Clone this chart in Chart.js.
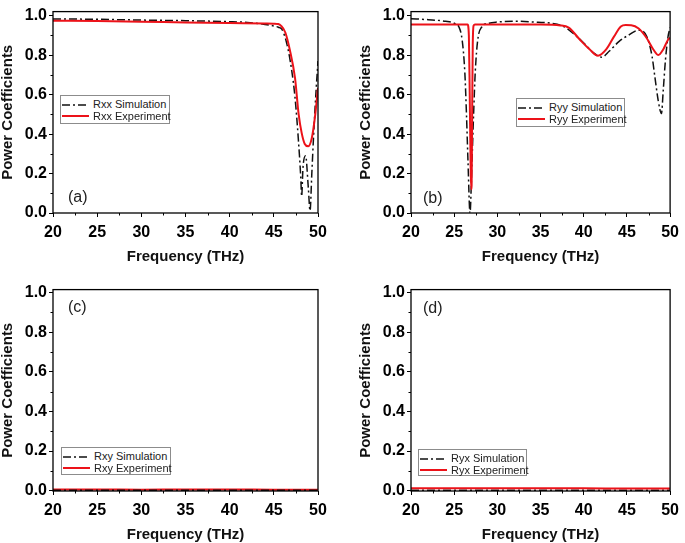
<!DOCTYPE html>
<html>
<head>
<meta charset="utf-8">
<script src="https://cdn.jsdelivr.net/npm/chart.js@4.4.1/dist/chart.umd.min.js"></script>
<style>
  html, body { margin: 0; padding: 0; background: #fff; }
  body { width: 685px; height: 543px; position: relative; overflow: hidden; font-family: 'Liberation Sans', Arial, sans-serif; }
  canvas { position: absolute; }
  .legend { position: absolute; box-sizing: border-box; border: 1px solid #8c8c8c; background: #fff;
            font-size: 11px; color: #222; padding: 3px 0 0 1px; }
  .legend .row { display: flex; align-items: center; height: 11.5px; line-height: 11.5px; white-space: nowrap; }
  .legend svg { width: 27px; height: 6px; margin-right: 4px; flex: none; }
  .tag { position: absolute; font-size: 16px; line-height: 16px; color: #222; }
</style>
</head>
<body>
<canvas id="chartA" width="340" height="270" style="left:0;top:0"></canvas>
<canvas id="chartB" width="327" height="270" style="left:358px;top:0"></canvas>
<canvas id="chartC" width="340" height="270" style="left:0;top:278px"></canvas>
<canvas id="chartD" width="327" height="270" style="left:358px;top:278px"></canvas>

<div class="tag" style="left:68px;top:189px">(a)</div>
<div class="tag" style="left:423px;top:190px">(b)</div>
<div class="tag" style="left:68px;top:299px">(c)</div>
<div class="tag" style="left:423px;top:300px">(d)</div>

<div id="legA" class="legend" style="left:60px;top:95px;width:110px;height:29px"></div>
<div id="legB" class="legend" style="left:516px;top:98px;width:109px;height:29px"></div>
<div id="legC" class="legend" style="left:61px;top:447px;width:110px;height:28px"></div>
<div id="legD" class="legend" style="left:418px;top:449px;width:109px;height:27px"></div>

<script>
// axis ticks
const xTicks = [20, 25, 30, 35, 40, 45, 50];
const xMinor = [22.5, 27.5, 32.5, 37.5, 42.5, 47.5];
const yTicks = [0, 0.2, 0.4, 0.6, 0.8, 1.0];
const yMinor = [0.1, 0.3, 0.5, 0.7, 0.9];

// (a) Rxx
const aFreqSim = [20, 25, 30, 35, 40, 42, 44, 45, 45.5, 45.9, 46.45, 47.0, 47.4, 47.8, 48.05, 48.15, 48.3, 48.6, 48.9, 49.1, 49.3, 49.5, 49.8, 50];
const aSim     = [0.984, 0.982, 0.978, 0.975, 0.97, 0.966, 0.956, 0.948, 0.942, 0.932, 0.862, 0.73, 0.585, 0.358, 0.179, 0.085, 0.23, 0.29, 0.13, 0.012, 0.2, 0.39, 0.634, 0.77];
const aFreqExp = [20, 25, 30, 35, 40, 44, 45, 45.5, 45.8, 46.3, 46.8, 47.4, 47.8, 48.15, 48.5, 48.9, 49.3, 49.66, 50];
const aExp     = [0.975, 0.973, 0.97, 0.966, 0.963, 0.961, 0.96, 0.958, 0.95, 0.915, 0.829, 0.684, 0.504, 0.406, 0.35, 0.338, 0.38, 0.488, 0.634];

// (b) Ryy
const bFreqSim = [20, 22, 24, 25, 25.55, 25.92, 26.23, 26.42, 26.6, 26.83, 27.06, 27.25, 27.44, 27.73, 28.19, 29, 30, 32, 34.7, 36.2,
                  37.7, 38.8, 40.0, 41.1, 42.1, 42.97, 44.1, 45.2, 46.4, 47.3, 47.9, 48.26, 48.63, 49.0, 49.2, 49.47, 49.76, 50];
const bSim     = [0.985, 0.98, 0.972, 0.962, 0.943, 0.878, 0.715, 0.504, 0.26, 0.0, 0.26, 0.504, 0.715, 0.878, 0.943, 0.962, 0.968, 0.972, 0.967, 0.962,
                  0.945, 0.91, 0.862, 0.813, 0.79, 0.821, 0.87, 0.902, 0.927, 0.894, 0.797, 0.683, 0.569, 0.504, 0.618, 0.78, 0.894, 0.94];
const bFreqExp = [20, 26.55, 26.7, 26.8, 26.9, 26.97, 27.02, 27.08, 27.15, 27.25, 27.4, 30, 35, 37.3, 38.26, 39.57, 40.7, 41.65, 42.6, 43.5,
                  44.3, 44.86, 45.5, 46.36, 47.3, 48.06, 48.65, 49.2, 49.76, 50];
const bExp     = [0.955, 0.955, 0.9, 0.6, 0.25, 0.12, 0.14, 0.5, 0.85, 0.95, 0.955, 0.955, 0.955, 0.951, 0.94, 0.878, 0.829, 0.797, 0.829, 0.894,
                  0.946, 0.953, 0.952, 0.935, 0.886, 0.829, 0.801, 0.829, 0.878, 0.888];

// (c) Rxy
const cFreq = [20, 25, 30, 35, 40, 45, 50];
const cSim  = [0.002, 0.002, 0.002, 0.002, 0.002, 0.002, 0.002];
const cExp  = [0.006, 0.006, 0.005, 0.006, 0.006, 0.005, 0.005];

// (d) Ryx
const dFreq = [20, 25, 30, 35, 40, 45, 50];
const dSim  = [0.002, 0.002, 0.002, 0.002, 0.002, 0.002, 0.002];
const dExp  = [0.013, 0.013, 0.012, 0.012, 0.012, 0.011, 0.011];

const simColor = '#111';
const expColor = '#ec1219';
const simDash = [8, 3, 2, 3];
const fontFamily = "'Liberation Sans', Arial, sans-serif";

const pts = (xs, ys) => xs.map((x, i) => ({ x: x, y: ys[i] }));

const frameTicks = {
    id: 'frameTicks',
    afterDraw(chart) {
        const { ctx, chartArea: { left, right, top, bottom }, scales: { x, y } } = chart;
        ctx.save();
        ctx.strokeStyle = '#000';
        ctx.lineWidth = 1;
        ctx.beginPath();
        xMinor.forEach(v => {
            const px = Math.round(x.getPixelForValue(v)) + 0.5;
            ctx.moveTo(px, bottom); ctx.lineTo(px, bottom + 2.5);
        });
        yMinor.forEach(v => {
            const py = Math.round(y.getPixelForValue(v)) + 0.5;
            ctx.moveTo(left, py); ctx.lineTo(left - 2.5, py);
        });
        ctx.stroke();
        ctx.lineWidth = 1.3;
        ctx.strokeRect(left, top, right - left, bottom - top);
        ctx.restore();
    }
};

function makeChart(id, simPts, expPts, yMin, yMax, padTop, padRight, simOnTop) {
    new Chart(document.getElementById(id).getContext('2d'), {
        type: 'line',
        data: {
            datasets: [
                { label: 'sim', data: simPts, borderColor: simColor, borderWidth: 1.5, borderDash: simDash,
                  pointRadius: 0, cubicInterpolationMode: 'monotone', order: simOnTop ? 0 : 1 },
                { label: 'exp', data: expPts, borderColor: expColor, borderWidth: 2,
                  pointRadius: 0, cubicInterpolationMode: 'monotone', order: simOnTop ? 1 : 0 }
            ]
        },
        options: {
            responsive: false,
            animation: false,
            layout: { padding: { top: padTop, right: padRight, left: 0, bottom: 0 } },
            plugins: { legend: { display: false }, tooltip: { enabled: false } },
            scales: {
                x: {
                    type: 'linear', min: 20, max: 50,
                    afterBuildTicks: s => { s.ticks = xTicks.map(v => ({ value: v })); },
                    afterFit: s => { s.height = 57; },
                    grid: { drawOnChartArea: false, drawTicks: true, tickLength: 4, color: '#000' },
                    border: { display: false },
                    ticks: { padding: 6, color: '#000', font: { family: fontFamily, size: 16, weight: 'bold' } },
                    title: { display: true, text: 'Frequency (THz)', color: '#111', padding: { top: 0, bottom: 4 },
                             font: { family: fontFamily, size: 15, weight: 'bold' } }
                },
                y: {
                    type: 'linear', min: yMin, max: yMax,
                    afterBuildTicks: s => { s.ticks = yTicks.map(v => ({ value: v })); },
                    afterFit: s => { s.width = 53; },
                    grid: { drawOnChartArea: false, drawTicks: true, tickLength: 4, color: '#000' },
                    border: { display: false },
                    ticks: { padding: 2, color: '#000', callback: v => v.toFixed(1),
                             font: { family: fontFamily, size: 16, weight: 'bold' } },
                    title: { display: true, text: 'Power Coefficients', color: '#111', padding: { top: -1, bottom: 0 },
                             font: { family: fontFamily, size: 15, weight: 'bold' } }
                }
            }
        },
        plugins: [frameTicks]
    });
}

function makeLegend(id, simLabel, expLabel) {
    const el = document.getElementById(id);
    el.innerHTML =
        `<div class="row"><svg viewBox="0 0 27 6"><line x1="0" y1="3" x2="27" y2="3" stroke="${simColor}" stroke-width="1.6" stroke-dasharray="${simDash.join(',')}"/></svg>${simLabel}</div>` +
        `<div class="row"><svg viewBox="0 0 27 6"><line x1="0" y1="3" x2="27" y2="3" stroke="${expColor}" stroke-width="2"/></svg>${expLabel}</div>`;
}

makeChart('chartA', pts(aFreqSim, aSim), pts(aFreqExp, aExp), 0, 1.021, 4, 22, false);
makeChart('chartB', pts(bFreqSim, bSim), pts(bFreqExp, bExp), 0, 1.021, 4, 10, false);
makeChart('chartC', pts(cFreq, cSim), pts(cFreq, cExp), -0.0015, 1.015, 5, 22, true);
makeChart('chartD', pts(dFreq, dSim), pts(dFreq, dExp), -0.0015, 1.015, 5, 10, false);

makeLegend('legA', 'Rxx Simulation', 'Rxx Experiment');
makeLegend('legB', 'Ryy Simulation', 'Ryy Experiment');
makeLegend('legC', 'Rxy Simulation', 'Rxy Experiment');
makeLegend('legD', 'Ryx Simulation', 'Ryx Experiment');
</script>
</body>
</html>
